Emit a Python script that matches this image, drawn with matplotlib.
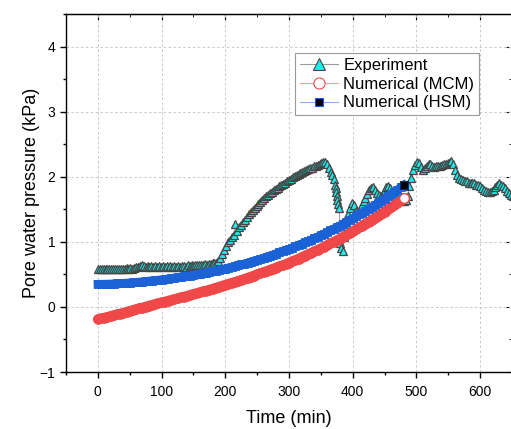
import matplotlib
matplotlib.use("Agg")
import matplotlib.pyplot as plt
from matplotlib.lines import Line2D

plt.rcParams['font.family'] = ['Liberation Sans', 'DejaVu Sans']

# ---------------- data ----------------
exp_t = [0, 3, 6, 9, 12, 15, 18, 21, 24, 27, 30, 33, 36, 39, 42, 45, 48, 51, 54, 57, 60,
         63, 66, 69, 72, 75, 78, 81, 84, 87, 90, 93, 96, 99, 102, 105, 108, 111, 114, 117, 120,
         123, 126, 129, 132, 135, 138, 141, 144, 147, 150, 153, 156, 159, 162, 165, 168, 171, 174, 177, 180,
         183, 186, 189, 192, 195, 198, 201, 204, 207, 210, 213, 216, 219, 222, 225, 228, 231, 234, 237, 240,
         243, 246, 249, 252, 255, 258, 261, 264, 267, 270, 273, 276, 279, 282, 285, 288, 291, 294, 297, 300,
         303, 306, 309, 312, 315, 318, 321, 324, 327, 330, 333, 336, 339, 342, 345, 348, 351, 354, 357, 360,
         363, 366, 368, 370, 372, 373, 374, 375, 376, 377, 379, 380, 381, 384, 387, 390, 393, 396, 399,
         402, 405, 408, 411, 414, 417, 420,
         423, 426, 429, 432, 435, 438, 441, 444, 447, 450, 453, 456, 459, 462, 465, 468, 471, 474, 477, 480,
         483, 486, 489, 492, 495, 498, 501, 504, 507, 510, 513, 516, 519, 522, 525, 528, 531, 534, 537, 540,
         543, 546, 549, 552, 555, 558, 561, 564, 567, 570, 573, 576, 579, 582, 585, 588, 591, 594, 597, 600,
         603, 606, 609, 612, 615, 618, 621, 624, 627, 630, 633, 636, 639, 642, 645, 648, 651, 654]
exp_p = [0.58, 0.59, 0.58, 0.59, 0.58, 0.58, 0.59, 0.58, 0.59, 0.58, 0.59, 0.58, 0.58, 0.59, 0.59, 0.60, 0.59, 0.60, 0.59, 0.60, 0.61,
         0.62, 0.63, 0.64, 0.63, 0.62, 0.63, 0.62, 0.63, 0.62, 0.63, 0.62, 0.63, 0.62, 0.63, 0.62, 0.63, 0.62, 0.63, 0.62, 0.63,
         0.62, 0.63, 0.62, 0.63, 0.63, 0.62, 0.64, 0.63, 0.64, 0.63, 0.64, 0.65, 0.64, 0.65, 0.64, 0.66, 0.65, 0.66, 0.66, 0.67,
         0.67, 0.68, 0.70, 0.75, 0.81, 0.88, 0.94, 0.99, 1.03, 1.07, 1.10, 1.28, 1.16, 1.22, 1.26, 1.30, 1.34, 1.38, 1.42, 1.46,
         1.49, 1.52, 1.55, 1.58, 1.61, 1.64, 1.67, 1.70, 1.72, 1.75, 1.77, 1.79, 1.81, 1.83, 1.85, 1.87, 1.89, 1.91, 1.93, 1.95,
         1.97, 1.99, 2.01, 2.02, 2.04, 2.06, 2.07, 2.09, 2.10, 2.12, 2.13, 2.14, 2.16, 2.17, 2.18, 2.20, 2.21, 2.22, 2.22, 2.19,
         2.14, 2.08, 2.02, 1.96, 1.88, 1.82, 1.76, 1.70, 1.64, 1.58, 1.52, 0.98, 0.90, 0.86, 1.08, 1.28, 1.42, 1.52, 1.60,
         1.56, 1.48, 1.44, 1.50, 1.56, 1.62, 1.68,
         1.74, 1.79, 1.83, 1.84, 1.80, 1.75, 1.72, 1.70, 1.74, 1.79, 1.84, 1.86, 1.82, 1.77, 1.73, 1.70, 1.67, 1.65, 1.63, 1.63,
         1.64, 1.70, 1.85, 1.98, 2.10, 2.18, 2.22, 2.21, 2.15, 2.10, 2.13, 2.17, 2.20, 2.19, 2.17, 2.15, 2.16, 2.17, 2.17, 2.18,
         2.19, 2.20, 2.21, 2.23, 2.24, 2.19, 2.10, 2.02, 1.98, 1.96, 1.95, 1.93, 1.93, 1.91, 1.90, 1.91, 1.90, 1.88, 1.87, 1.85,
         1.82, 1.80, 1.78, 1.77, 1.77, 1.78, 1.80, 1.84, 1.88, 1.90, 1.88, 1.85, 1.82, 1.78, 1.75, 1.72, 1.70, 1.70]

num_t = [0, 5, 10, 15, 20, 25, 30, 35, 40, 45, 50, 55, 60, 65, 70, 75, 80, 85, 90, 95,
         100, 105, 110, 115, 120, 125, 130, 135, 140, 145, 150, 155, 160, 165, 170, 175,
         180, 185, 190, 195, 200, 205, 210, 215, 220, 225, 230, 235, 240, 245, 250, 255,
         260, 265, 270, 275, 280, 285, 290, 295, 300, 305, 310, 315, 320, 325, 330, 335,
         340, 345, 350, 355, 360, 365, 370, 375, 380, 385, 390, 395, 400, 405, 410, 415,
         420, 425, 430, 435, 440, 445, 450, 455, 460, 465, 470, 475, 480]
mcm_p = [-0.19, -0.178, -0.165, -0.153, -0.14, -0.128, -0.115, -0.103, -0.09, -0.075,
         -0.06, -0.048, -0.035, -0.022, -0.01, 0.005, 0.02, 0.032, 0.045, 0.058,
         0.07, 0.082, 0.095, 0.108, 0.12, 0.132, 0.145, 0.158, 0.17, 0.185,
         0.20, 0.212, 0.225, 0.238, 0.25, 0.265, 0.28, 0.295, 0.31, 0.325,
         0.34, 0.355, 0.37, 0.385, 0.40, 0.415, 0.43, 0.448, 0.465, 0.482,
         0.50, 0.518, 0.535, 0.552, 0.57, 0.588, 0.605, 0.622, 0.64, 0.66,
         0.68, 0.70, 0.72, 0.742, 0.765, 0.788, 0.81, 0.832, 0.855, 0.878,
         0.90, 0.925, 0.95, 0.975, 1.00, 1.025, 1.05, 1.078, 1.105, 1.132,
         1.16, 1.19, 1.22, 1.25, 1.28, 1.31, 1.34, 1.37, 1.40, 1.432,
         1.465, 1.498, 1.53, 1.565, 1.60, 1.635, 1.67]
hsm_p = [0.35, 0.351, 0.352, 0.353, 0.355, 0.357, 0.36, 0.362, 0.365, 0.368,
         0.37, 0.375, 0.38, 0.385, 0.39, 0.395, 0.40, 0.405, 0.41, 0.415,
         0.42, 0.426, 0.433, 0.44, 0.446, 0.453, 0.46, 0.468, 0.475, 0.482,
         0.49, 0.499, 0.508, 0.518, 0.527, 0.537, 0.547, 0.558, 0.568, 0.579,
         0.59, 0.602, 0.614, 0.626, 0.639, 0.652, 0.665, 0.678, 0.692, 0.706,
         0.72, 0.736, 0.752, 0.768, 0.785, 0.802, 0.82, 0.838, 0.855, 0.872,
         0.89, 0.91, 0.93, 0.95, 0.97, 0.991, 1.012, 1.033, 1.055, 1.078,
         1.10, 1.125, 1.15, 1.175, 1.20, 1.225, 1.25, 1.278, 1.305, 1.332,
         1.36, 1.39, 1.42, 1.45, 1.48, 1.51, 1.54, 1.57, 1.60, 1.632,
         1.665, 1.698, 1.73, 1.765, 1.80, 1.835, 1.87]

x_ticks = [0, 100, 200, 300, 400, 500, 600]
y_ticks = [-1, 0, 1, 2, 3, 4]
labels = ['Experiment', 'Numerical (MCM)', 'Numerical (HSM)']

# ---------------- figure ----------------
W, H, DPI = 511, 429, 100
fig = plt.figure(figsize=(W / DPI, H / DPI), dpi=DPI)
ax = fig.add_axes([66 / W, (H - 372) / H, (512 - 66) / W, (372 - 14) / H])

cyan = '#1EEDED'
edge_gray = '#454545'
red = '#F04848'
blue = '#1A62D6'

ax.plot(exp_t, exp_p, '-', color='#a0a0a0', lw=0.8, zorder=3)
ax.plot(exp_t, exp_p, '^', ms=6.2, mfc=cyan, mec=edge_gray, mew=0.9, zorder=4, lw=0)

ax.plot(num_t, mcm_p, '-', color=red, lw=7, zorder=5, solid_capstyle='round')
ax.plot(num_t, mcm_p, 'o', ms=7.0, mfc=red, mec=red, mew=0.6, zorder=5)
ax.plot(num_t[-1:], mcm_p[-1:], 'o', ms=7.0, mfc='white', mec=red, mew=1.0, zorder=6)

ax.plot(num_t, hsm_p, '-', color=blue, lw=6, zorder=7)
ax.plot(num_t, hsm_p, 's', ms=5.8, mfc=blue, mec=blue, mew=0.6, zorder=7)
ax.plot(num_t[-1:], hsm_p[-1:], 's', ms=6, mfc='black', mec='#0a2a80', mew=0.8, zorder=8)

ax.set_xlim(-50, 650)
ax.set_ylim(-1, 4.5)
ax.set_xticks(x_ticks)
ax.set_yticks(y_ticks)
ax.set_xticks(range(-50, 651, 100), minor=True)
ax.set_yticks([-0.5, 0.5, 1.5, 2.5, 3.5, 4.5], minor=True)
ax.set_yticklabels(['\u22121', '0', '1', '2', '3', '4'])
ax.tick_params(which='both', direction='out', labelsize=10, width=1, top=False, right=False)
ax.tick_params(axis='x', which='both', pad=5)
ax.tick_params(which='major', length=4)
ax.tick_params(which='minor', length=2.5)

for s in ax.spines.values():
    s.set_linewidth(1.0)

ax.grid(True, which='major', color='#c8c8c8', lw=0.7, ls=(0, (2.5, 2.5)))
ax.set_axisbelow(True)

# top / right inward ticks
sx = ax.secondary_xaxis('top')
sx.set_xticks(x_ticks)
sx.set_xticks(range(-50, 651, 100), minor=True)
sx.tick_params(which='both', direction='in', labeltop=False)
sx.tick_params(which='major', length=4)
sx.tick_params(which='minor', length=2.5)
sy = ax.secondary_yaxis('right')
sy.set_yticks(y_ticks)
sy.set_yticks([-0.5, 0.5, 1.5, 2.5, 3.5, 4.5], minor=True)
sy.tick_params(which='both', direction='in', labelright=False)
sy.tick_params(which='major', length=4)
sy.tick_params(which='minor', length=2.5)

ax.set_xlabel('Time (min)', fontsize=13, labelpad=8)
ax.set_ylabel('Pore water pressure (kPa)', fontsize=13, labelpad=0)

handles = [
    Line2D([], [], color='#9a9a9a', lw=0.8, marker='^', ms=8, mfc=cyan, mec=edge_gray, mew=0.8),
    Line2D([], [], color='#F7A0A0', lw=0.8, marker='o', ms=8, mfc='white', mec=red, mew=0.8),
    Line2D([], [], color='#8fb0e8', lw=0.8, marker='s', ms=5.5, mfc='black', mec=blue, mew=0.8),
]
leg = ax.legend(handles, labels, loc='upper left', bbox_to_anchor=(0.513, 0.891),
                fontsize=12, frameon=True, fancybox=False, framealpha=1,
                edgecolor='#999999', handlelength=2.3, handletextpad=0.3,
                labelspacing=0.22, borderpad=0.3, borderaxespad=0)
leg.get_frame().set_linewidth(0.8)

fig.savefig('out.png', dpi=DPI)
